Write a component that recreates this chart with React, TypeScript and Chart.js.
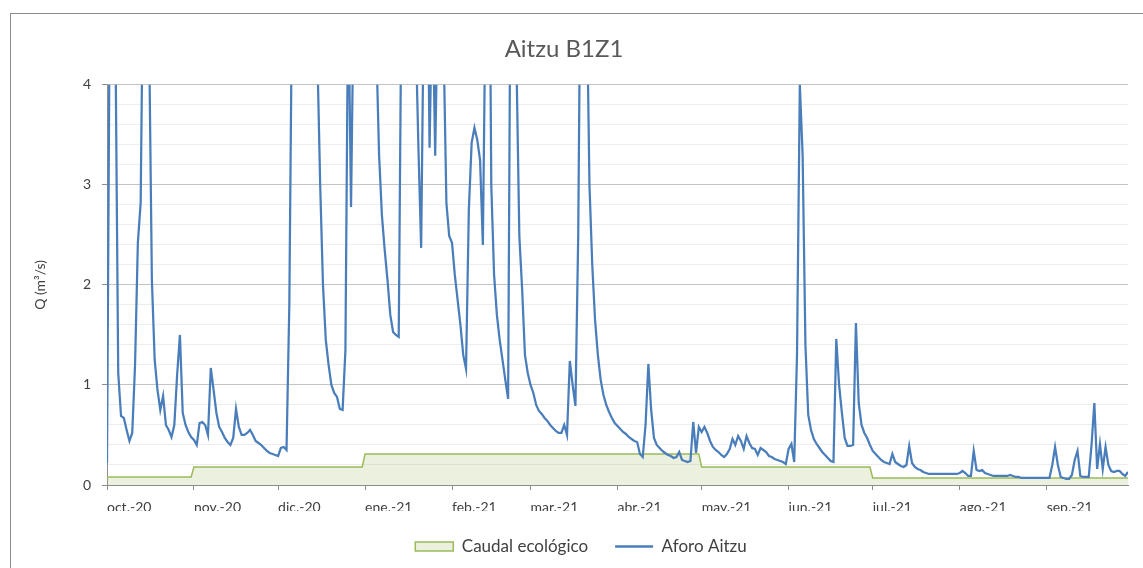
import React, { useEffect, useRef } from 'react';
import { Chart, registerables } from 'chart.js';

Chart.register(...registerables);

const chartTitle = 'Aitzu B1Z1';
const yAxisTitle = 'Q (m³/s)';
const monthLabels = ['oct.-20', 'nov.-20', 'dic.-20', 'ene.-21', 'feb.-21', 'mar.-21', 'abr.-21', 'may.-21', 'jun.-21', 'jul.-21', 'ago.-21', 'sep.-21'];
const daysInMonth = [31, 30, 31, 31, 28, 31, 30, 31, 30, 31, 31, 30];

// Caudal ecológico (m3/s), one value per month
const caudalEcologico = [0.08, 0.18, 0.18, 0.31, 0.31, 0.31, 0.31, 0.18, 0.18, 0.07, 0.07, 0.07];

// Aforo Aitzu, daily values (m3/s)
const aforoOct = [0.22, 5.0, 6.0, 4.5, 1.12, 0.69, 0.67, 0.55, 0.44, 0.52, 1.2, 2.42, 2.82, 5.5, 7.0, 4.5, 2.05, 1.25, 0.95, 0.75, 0.89, 0.6, 0.55, 0.48, 0.6, 1.1, 1.5, 0.72, 0.6, 0.53, 0.48];
const aforoNov = [0.45, 0.4, 0.62, 0.63, 0.6, 0.5, 1.17, 0.95, 0.72, 0.58, 0.53, 0.47, 0.43, 0.4, 0.47, 0.76, 0.58, 0.5, 0.5, 0.52, 0.55, 0.5, 0.44, 0.42, 0.4, 0.37, 0.34, 0.32, 0.31, 0.3];
const aforoDic = [0.29, 0.37, 0.38, 0.35, 1.8, 5.0, 7.0, 9.0, 8.0, 7.0, 6.0, 6.5, 5.5, 5.0, 4.3, 3.0, 2.0, 1.45, 1.2, 1.0, 0.92, 0.88, 0.76, 0.75, 1.35, 5.0, 2.78, 5.0, 7.0, 8.0, 7.0];
const aforoEne = [6.0, 5.0, 6.0, 5.0, 4.4, 3.3, 2.7, 2.35, 2.05, 1.7, 1.53, 1.5, 1.48, 5.0, 8.0, 10.0, 8.0, 6.0, 4.6, 3.4, 2.37, 5.0, 6.0, 3.37, 5.0, 3.29, 5.0, 5.0, 4.4, 2.82, 2.49];
const aforoFeb = [2.42, 2.1, 1.85, 1.6, 1.3, 1.16, 2.75, 3.42, 3.57, 3.45, 3.25, 2.4, 5.0, 7.0, 3.0, 2.1, 1.7, 1.45, 1.25, 1.05, 0.86, 6.0, 5.0, 4.2, 2.49, 1.96, 1.3, 1.12];
const aforoMar = [1.0, 0.92, 0.8, 0.74, 0.71, 0.67, 0.64, 0.6, 0.57, 0.54, 0.52, 0.52, 0.6, 0.5, 1.24, 1.0, 0.79, 2.5, 6.0, 8.0, 5.0, 3.0, 2.2, 1.65, 1.3, 1.05, 0.9, 0.8, 0.73, 0.67, 0.62];
const aforoAbr = [0.59, 0.56, 0.53, 0.51, 0.48, 0.46, 0.44, 0.43, 0.31, 0.28, 0.6, 1.21, 0.75, 0.47, 0.4, 0.37, 0.34, 0.32, 0.3, 0.29, 0.27, 0.28, 0.33, 0.25, 0.24, 0.23, 0.24, 0.63, 0.32, 0.58];
const aforoMay = [0.53, 0.58, 0.52, 0.44, 0.38, 0.35, 0.33, 0.3, 0.28, 0.31, 0.36, 0.46, 0.4, 0.49, 0.44, 0.36, 0.49, 0.42, 0.37, 0.36, 0.3, 0.37, 0.35, 0.33, 0.29, 0.28, 0.26, 0.25, 0.24, 0.23, 0.21];
const aforoJun = [0.36, 0.41, 0.23, 1.3, 4.0, 3.3, 1.4, 0.7, 0.55, 0.46, 0.41, 0.37, 0.33, 0.3, 0.27, 0.24, 0.23, 1.46, 1.0, 0.72, 0.47, 0.39, 0.39, 0.4, 1.62, 0.82, 0.6, 0.52, 0.47, 0.4];
const aforoJul = [0.34, 0.31, 0.28, 0.25, 0.23, 0.22, 0.21, 0.31, 0.23, 0.21, 0.19, 0.18, 0.2, 0.39, 0.22, 0.18, 0.16, 0.15, 0.13, 0.12, 0.11, 0.11, 0.11, 0.11, 0.11, 0.11, 0.11, 0.11, 0.11, 0.11, 0.11];
const aforoAgo = [0.12, 0.14, 0.12, 0.09, 0.09, 0.34, 0.15, 0.14, 0.15, 0.12, 0.11, 0.1, 0.09, 0.09, 0.09, 0.09, 0.09, 0.09, 0.1, 0.09, 0.08, 0.08, 0.07, 0.07, 0.07, 0.07, 0.07, 0.07, 0.07, 0.07, 0.07];
const aforoSep = [0.07, 0.07, 0.2, 0.38, 0.2, 0.08, 0.07, 0.06, 0.06, 0.1, 0.25, 0.34, 0.09, 0.08, 0.08, 0.08, 0.4, 0.82, 0.16, 0.41, 0.16, 0.38, 0.2, 0.14, 0.13, 0.14, 0.14, 0.11, 0.09, 0.13];

const aforoMonths = [aforoOct, aforoNov, aforoDic, aforoEne, aforoFeb, aforoMar, aforoAbr, aforoMay, aforoJun, aforoJul, aforoAgo, aforoSep];

const FONT = 'Lato, "Open Sans", sans-serif';
const BLUE = '#4a7ebb';
const GREEN = '#9bbb59';
const GREEN_FILL = 'rgba(155,187,89,0.2)';
const TEXT = '#404040';
const AXIS = '#8c8c8c';

const isMajor = (v: number) => Math.abs(v - Math.round(v)) < 1e-6;

export default function App() {
  const canvasRef = useRef<HTMLCanvasElement | null>(null);

  useEffect(() => {
    const canvas = canvasRef.current;
    if (!canvas) return;

    const monthStarts: number[] = [];
    let acc = 0;
    daysInMonth.forEach((n) => {
      monthStarts.push(acc);
      acc += n;
    });
    const lastDay = acc - 1;

    const aforoPoints = aforoMonths.flatMap((m, i) => m.map((v, j) => ({ x: monthStarts[i] + j, y: v })));
    const ecoPoints = caudalEcologico.flatMap((v, i) => [
      { x: monthStarts[i], y: v },
      { x: monthStarts[i] + daysInMonth[i] - 1, y: v },
    ]);

    const framePlugin = {
      id: 'frame',
      beforeDraw(chart: any) {
        const c = chart.ctx;
        c.save();
        c.fillStyle = '#ffffff';
        c.fillRect(0, 0, chart.width, chart.height);
        c.strokeStyle = '#8c8c8c';
        c.lineWidth = 1;
        c.strokeRect(10.5, 13.5, 1300, 700);
        c.restore();
      },
    };

    const legendShift = {
      id: 'legendShift',
      afterLayout(chart: any) {
        const lg = chart.legend;
        if (lg) {
          lg.left += 17;
          lg.right += 17;
        }
      },
    };

    const chart = new Chart(canvas, {
      type: 'line',
      data: {
        datasets: [
          {
            label: 'Caudal ecológico',
            data: ecoPoints,
            borderColor: GREEN,
            backgroundColor: GREEN_FILL,
            borderWidth: 1.5,
            fill: 'origin',
            pointRadius: 0,
            tension: 0,
            order: 1,
          },
          {
            label: 'Aforo Aitzu',
            data: aforoPoints,
            borderColor: BLUE,
            backgroundColor: BLUE,
            borderWidth: 2.25,
            fill: false,
            pointRadius: 0,
            tension: 0,
            order: 0,
          },
        ],
      },
      options: {
        animation: false,
        responsive: false,
        devicePixelRatio: 1,
        layout: { padding: { left: 0, right: 15, top: 20, bottom: 3 } },
        scales: {
          x: {
            type: 'linear',
            min: 0,
            max: lastDay,
            afterBuildTicks: (scale: any) => {
              scale.ticks = monthStarts.map((v) => ({ value: v }));
            },
            afterFit: (scale: any) => {
              scale.height = 26;
            },
            ticks: {
              autoSkip: false,
              maxRotation: 0,
              minRotation: 0,
              align: 'start',
              padding: 9,
              color: TEXT,
              font: { family: FONT, size: 14 },
              callback: (_v: any, i: number) => monthLabels[i],
            },
            grid: { drawOnChartArea: false, drawTicks: true, tickLength: 5, color: AXIS },
            border: { color: AXIS, width: 1 },
          },
          y: {
            min: 0,
            max: 4,
            afterFit: (scale: any) => {
              scale.width = 107;
            },
            ticks: {
              stepSize: 0.2,
              autoSkip: false,
              padding: 11,
              color: TEXT,
              font: { family: FONT, size: 14 },
              callback: (v: any) => (isMajor(Number(v)) ? String(Math.round(Number(v))) : ''),
            },
            grid: {
              drawTicks: true,
              tickLength: 5,
              color: (ctx: any) => (ctx.tick && isMajor(ctx.tick.value) ? '#c4c4c4' : '#ededed'),
              tickColor: (ctx: any) => (ctx.tick && isMajor(ctx.tick.value) ? AXIS : 'rgba(0,0,0,0)'),
            },
            border: { color: AXIS, width: 1 },
            title: {
              display: true,
              text: yAxisTitle,
              color: TEXT,
              font: { family: FONT, size: 14 },
              padding: { top: 32, bottom: 0 },
            },
          },
        },
        plugins: {
          title: {
            display: true,
            text: chartTitle,
            color: '#595959',
            font: { family: FONT, size: 24, weight: 'normal' },
            padding: { top: 15, bottom: 21 },
          },
          legend: {
            display: true,
            position: 'bottom',
            labels: {
              usePointStyle: true,
              pointStyleWidth: 38,
              boxHeight: 9,
              padding: 27,
              color: TEXT,
              font: { family: FONT, size: 17 },
              generateLabels: () => [
                {
                  text: 'Caudal ecológico',
                  fillStyle: GREEN_FILL,
                  strokeStyle: GREEN,
                  lineWidth: 1.5,
                  pointStyle: 'rect',
                  hidden: false,
                  datasetIndex: 0,
                  fontColor: TEXT,
                },
                {
                  text: 'Aforo Aitzu',
                  fillStyle: BLUE,
                  strokeStyle: BLUE,
                  lineWidth: 2.5,
                  pointStyle: 'line',
                  hidden: false,
                  datasetIndex: 1,
                  fontColor: TEXT,
                },
              ],
            },
          },
          tooltip: { enabled: false },
        },
      } as any,
      plugins: [framePlugin, legendShift],
    });

    return () => chart.destroy();
  }, []);

  return (
    <div style={{ position: 'fixed', left: 0, top: 0, width: 1143, height: 568, background: '#ffffff' }}>
      <canvas ref={canvasRef} width={1143} height={568} style={{ display: 'block', width: 1143, height: 568 }} />
    </div>
  );
}
